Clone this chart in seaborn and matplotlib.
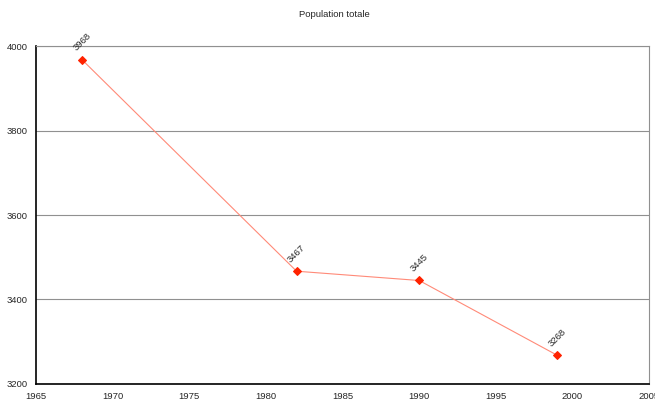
import matplotlib
matplotlib.use("Agg")
import matplotlib.pyplot as plt
import seaborn as sns
import pandas as pd

# Data
years = [1968, 1982, 1990, 1999]
population = [3968, 3467, 3445, 3268]
x_ticks = [1965, 1970, 1975, 1980, 1985, 1990, 1995, 2000, 2005]
y_ticks = [3200, 3400, 3600, 3800, 4000]

df = pd.DataFrame({"annee": years, "population": population})

sns.set_style("white")
plt.rcParams["font.family"] = ["Liberation Sans", "DejaVu Sans"]

fig = plt.figure(figsize=(6.55, 4.05), dpi=100)
ax = fig.add_axes([0.055, 0.052, 0.936, 0.834])

sns.lineplot(data=df, x="annee", y="population", ax=ax, color="#ff8a78",
             linewidth=0.8, marker="D", markersize=4.5,
             markerfacecolor="#ff2200", markeredgecolor="#ff2200")

for x, y in zip(years, population):
    ax.annotate(str(y), (x, y), xytext=(-3, 5), textcoords="offset points",
                rotation=45, fontsize=6.8, ha="left", va="bottom",
                rotation_mode="anchor")

ax.set_xlim(1965, 2005)
ax.set_ylim(3200, 4000)
ax.set_xticks(x_ticks)
ax.set_yticks(y_ticks)
ax.tick_params(axis="both", labelsize=6.8, length=3, width=0.8,
               direction="out", color="black", pad=3)
ax.tick_params(axis="x", pad=3)
ax.set_xlabel("")
ax.set_ylabel("")

ax.yaxis.grid(True, color="#909090", linewidth=0.8)
ax.set_axisbelow(True)
for side in ["left", "bottom"]:
    ax.spines[side].set_color("black")
    ax.spines[side].set_linewidth(1.2)
for side in ["top", "right"]:
    ax.spines[side].set_color("#909090")
    ax.spines[side].set_linewidth(0.8)

fig.text(0.51, 0.965, "Population totale", ha="center", va="center", fontsize=6.8)

fig.savefig("out.png", dpi=100)
